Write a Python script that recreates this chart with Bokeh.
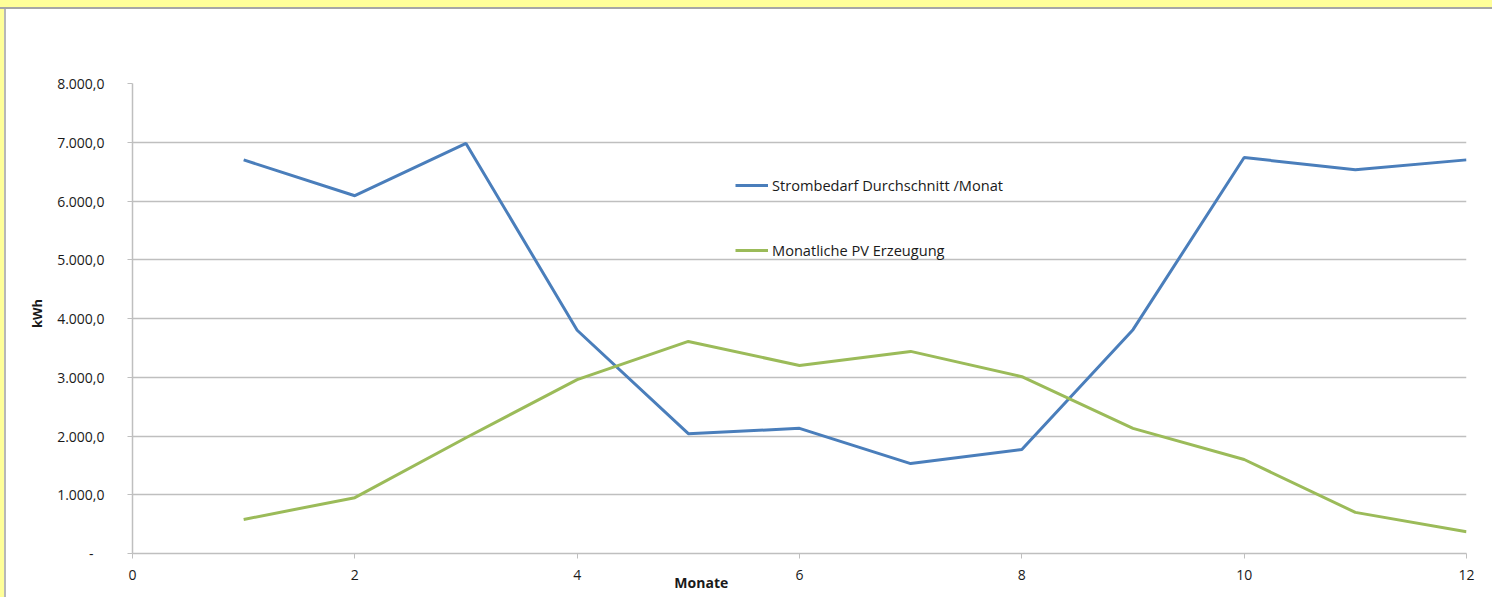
from bokeh.plotting import figure
from bokeh.models import FixedTicker, CustomJSTickFormatter, Range1d
from bokeh.embed import file_html
from bokeh.resources import INLINE

months = [1, 2, 3, 4, 5, 6, 7, 8, 9, 10, 11, 12]
strombedarf = [6700, 6090, 6980, 3800, 2040, 2130, 1530, 1770, 3810, 6740, 6530, 6700]
pv_erzeugung = [580, 950, 1970, 2960, 3610, 3200, 3440, 3010, 2130, 1600, 700, 370]
x_ticks = [0, 2, 4, 6, 8, 10, 12]
y_ticks = [0, 1000, 2000, 3000, 4000, 5000, 6000, 7000, 8000]

FONT = "Open Sans"
GRID = "#BFBFBF"
TXT = "#1A1A1A"
NB = "\u00a0"

p = figure(width=1492, height=597, output_backend="svg", toolbar_location=None,
           x_range=Range1d(0, 12), y_range=Range1d(0, 8000),
           min_border_left=132, min_border_top=83, min_border_right=26, min_border_bottom=44)
p.outline_line_color = None
p.background_fill_color = "white"
p.border_fill_alpha = 0
p.styles = {
    "background": "linear-gradient(to bottom, #FFFF99 0px, #FFFF99 7px, #A6A6A6 7px, #A6A6A6 9px, transparent 9px), "
                  "linear-gradient(to right, #FFFF99 0px, #FFFF99 4px, #B8B8B8 4px, #B8B8B8 6px, #FFFFFF 6px)"
}

p.line(months, strombedarf, line_color="#4A7EBB", line_width=3,
       legend_label="Strombedarf Durchschnitt /Monat")
p.line(months, pv_erzeugung, line_color="#9BBB59", line_width=3,
       legend_label="Monatliche PV Erzeugung")

p.xgrid.grid_line_color = None
p.ygrid.grid_line_color = GRID
p.ygrid.grid_line_width = 1.5
p.ygrid.ticker = FixedTicker(ticks=y_ticks)

xa = p.xaxis[0]
xa.ticker = FixedTicker(ticks=x_ticks)
xa.minor_tick_line_color = None
xa.major_tick_in = 0
xa.major_tick_out = 5
xa.axis_line_color = GRID
xa.axis_line_width = 1.5
xa.major_tick_line_color = GRID
xa.major_label_text_font = FONT
xa.major_label_text_font_size = "14px"
xa.major_label_text_color = TXT
xa.major_label_standoff = 11
xa.axis_label = "Monate" + NB * 54
xa.axis_label_text_font = FONT
xa.axis_label_text_font_size = "14px"
xa.axis_label_text_font_style = "bold"
xa.axis_label_text_color = TXT
xa.axis_label_standoff = -10

ya = p.yaxis[0]
ya.ticker = FixedTicker(ticks=y_ticks)
ya.minor_tick_line_color = None
ya.major_tick_in = 0
ya.major_tick_out = 5
ya.axis_line_color = GRID
ya.axis_line_width = 1.5
ya.major_tick_line_color = GRID
ya.major_label_text_font = FONT
ya.major_label_text_font_size = "14px"
ya.major_label_text_color = TXT
ya.major_label_standoff = 23
ya.formatter = CustomJSTickFormatter(code="""
if (tick == 0) { return "-\\u00a0\\u00a0\\u00a0"; }
const parts = Number(tick).toFixed(1).split(".");
const ip = parts[0].replace(/\\B(?=(\\d{3})+(?!\\d))/g, ".");
return ip + "," + parts[1];
""")
ya.axis_label = NB * 3 + "kWh"
ya.axis_label_text_font = FONT
ya.axis_label_text_font_size = "13px"
ya.axis_label_text_font_style = "bold"
ya.axis_label_text_color = TXT
ya.axis_label_standoff = 8

lg = p.legend[0]
lg.location = (603, 293)
lg.padding = 0
lg.margin = 0
lg.border_line_color = None
lg.background_fill_alpha = 0
lg.glyph_width = 33
lg.glyph_height = 20
lg.label_height = 20
lg.label_standoff = 4
lg.spacing = 45
lg.label_text_font = FONT
lg.label_text_font_size = "14.6px"
lg.label_text_color = TXT

open("out.html", "w").write(file_html(p, INLINE))
